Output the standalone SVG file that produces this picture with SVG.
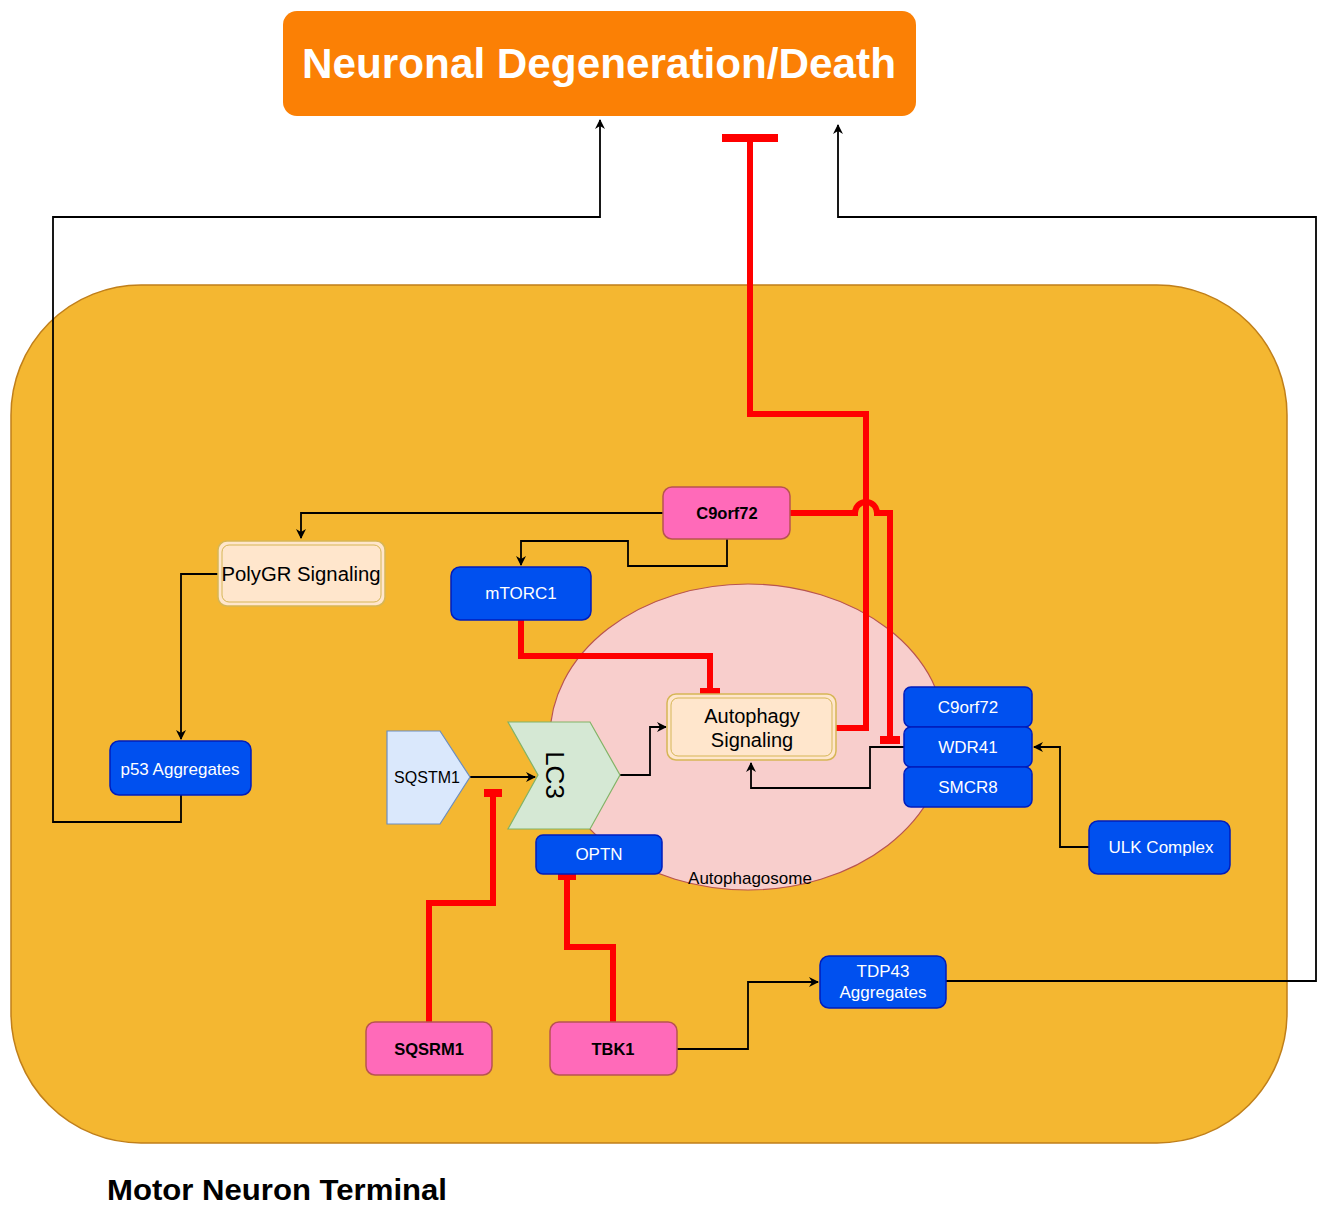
<svg xmlns="http://www.w3.org/2000/svg" width="1317" height="1205" viewBox="0 0 1317 1205">
<defs>
<style>
.blue{fill:#0050ef;stroke:#001dbc;stroke-width:1.5}
.pink{fill:#ff6ab9;stroke:#b85450;stroke-width:1.5}
.cream{fill:#ffe6cc;stroke:#d6b656;stroke-width:1.5}
.wt{font-family:"Liberation Sans",Arial,sans-serif;font-size:17px;fill:#fff;text-anchor:middle}
.bt{font-family:"Liberation Sans",Arial,sans-serif;font-size:16.5px;font-weight:bold;fill:#000;text-anchor:middle}
.ct{font-family:"Liberation Sans",Arial,sans-serif;font-size:20px;fill:#000;text-anchor:middle}
.ln{fill:none;stroke:#000;stroke-width:1.8}
.rd{fill:none;stroke:#ff0000;stroke-width:6}
.tb{stroke:#ff0000;stroke-width:8}
</style>
<marker id="ar" viewBox="0 0 10 10" refX="9" refY="5" markerWidth="10" markerHeight="10" markerUnits="userSpaceOnUse" orient="auto"><path d="M0,0 L10,5 L0,10 L3,5 Z" fill="#000"/></marker>
</defs>
<rect width="1317" height="1205" fill="#fff"/>
<g id="cell"><rect x="11" y="285" width="1276" height="858" rx="130" ry="130" fill="#f4b731" stroke="#c07f1a" stroke-width="1.5"/></g>
<g id="autophagosome"><ellipse cx="748" cy="737" rx="198" ry="153" fill="#f8cecc" stroke="#b85450" stroke-width="1.2"/>
<text x="750" y="884" font-family="'Liberation Sans',Arial,sans-serif" font-size="17" text-anchor="middle">Autophagosome</text></g>
<g id="connectors">
<path class="ln" d="M181,795 V822 H53 V217 H600 V120" marker-end="url(#ar)"/>
<path class="ln" d="M946,981 H1316 V217 H838 V125" marker-end="url(#ar)"/>
<path class="ln" d="M663,513 H301 V538" marker-end="url(#ar)"/>
<path class="ln" d="M727,539 V566 H628 V541 H521 V565" marker-end="url(#ar)"/>
<path class="ln" d="M218,574 H181 V739" marker-end="url(#ar)"/>
<path class="ln" d="M470,777 H535" marker-end="url(#ar)"/>
<path class="ln" d="M620,775 H650 V727 H666" marker-end="url(#ar)"/>
<path class="ln" d="M1089,847 H1060 V747 H1034" marker-end="url(#ar)"/>
<path class="ln" d="M904,747 H870 V788 H751 V763" marker-end="url(#ar)"/>
<path class="ln" d="M677,1049 H748 V982 H818" marker-end="url(#ar)"/>
<path class="rd" d="M750,138 V414 H866 V728 H836"/>
<line class="tb" x1="722" y1="138" x2="778" y2="138"/>
<path class="rd" d="M790,513 H855 A11,11 0 0 1 877,513 H890 V740"/>
<line class="tb" x1="880" y1="740" x2="900" y2="740"/>
<path class="rd" d="M521,620 V656 H710 V692"/>
<line class="tb" x1="700" y1="692" x2="720" y2="692"/>
<path class="rd" d="M429,1022 V903 H493 V793"/>
<line class="tb" x1="484" y1="793" x2="502" y2="793"/>
<path class="rd" d="M613,1022 V947 H567 V876"/>
<line class="tb" x1="558" y1="876" x2="576" y2="876"/>
</g>
<g id="neuronal-death"><rect x="283" y="11" width="633" height="105" rx="14" fill="#fb8005"/>
<text x="599" y="78" font-family="'Liberation Sans',Arial,sans-serif" font-size="42" font-weight="bold" fill="#fff" text-anchor="middle" textLength="594" lengthAdjust="spacingAndGlyphs">Neuronal Degeneration/Death</text></g>
<g id="c9orf72-pink"><rect class="pink" x="663" y="487" width="127" height="52" rx="9"/><text class="bt" x="727" y="519">C9orf72</text></g>
<g id="polygr"><rect class="cream" x="218" y="541" width="167" height="65" rx="9"/><rect x="222" y="545" width="159" height="57" rx="7" fill="none" stroke="#d6b656" stroke-width="1"/><text class="ct" x="301" y="581" textLength="159" lengthAdjust="spacingAndGlyphs">PolyGR Signaling</text></g>
<g id="mtorc1"><rect class="blue" x="451" y="567" width="140" height="53" rx="9"/><text class="wt" x="521" y="599">mTORC1</text></g>
<g id="p53"><rect class="blue" x="110" y="741" width="141" height="54" rx="9"/><text class="wt" x="180" y="775">p53 Aggregates</text></g>
<g id="autophagy-signaling"><rect class="cream" x="667" y="694" width="169" height="66" rx="9"/><rect x="671" y="698" width="161" height="58" rx="7" fill="none" stroke="#d6b656" stroke-width="1"/><text class="ct" x="752" y="723">Autophagy</text><text class="ct" x="752" y="747">Signaling</text></g>
<g id="sqstm1"><path d="M387,731 H440 L470,777 L440,824 H387 Z" fill="#dae8fc" stroke="#6c8ebf" stroke-width="1.2"/><text x="427" y="783" font-family="'Liberation Sans',Arial,sans-serif" font-size="16" text-anchor="middle">SQSTM1</text></g>
<g id="lc3"><path d="M508,722 H590 L620,775 L590,829 H508 L538,775 Z" fill="#d5e8d4" stroke="#82b366" stroke-width="1.2"/><text x="0" y="0" transform="translate(555,775) rotate(90)" font-family="'Liberation Sans',Arial,sans-serif" font-size="26" text-anchor="middle" dy="9">LC3</text></g>
<g id="optn"><rect class="blue" x="536" y="835" width="126" height="39" rx="7"/><text class="wt" x="599" y="860">OPTN</text></g>
<g id="c9orf72-blue"><rect class="blue" x="904" y="687" width="128" height="40" rx="7"/><text class="wt" x="968" y="713">C9orf72</text></g>
<g id="wdr41"><rect class="blue" x="904" y="727" width="128" height="40" rx="7"/><text class="wt" x="968" y="753">WDR41</text></g>
<g id="smcr8"><rect class="blue" x="904" y="767" width="128" height="40" rx="7"/><text class="wt" x="968" y="793">SMCR8</text></g>
<g id="ulk"><rect class="blue" x="1089" y="821" width="141" height="53" rx="9"/><text class="wt" x="1161" y="853">ULK Complex</text></g>
<g id="tdp43"><rect class="blue" x="820" y="956" width="126" height="52" rx="9"/><text class="wt" x="883" y="977">TDP43</text><text class="wt" x="883" y="998">Aggregates</text></g>
<g id="sqsrm1"><rect class="pink" x="366" y="1022" width="126" height="53" rx="9"/><text class="bt" x="429" y="1055">SQSRM1</text></g>
<g id="tbk1"><rect class="pink" x="550" y="1022" width="127" height="53" rx="9"/><text class="bt" x="613" y="1055">TBK1</text></g>
<text x="107" y="1200" font-family="'Liberation Sans',Arial,sans-serif" font-size="30" font-weight="bold" textLength="340" lengthAdjust="spacingAndGlyphs">Motor Neuron Terminal</text>
</svg>
